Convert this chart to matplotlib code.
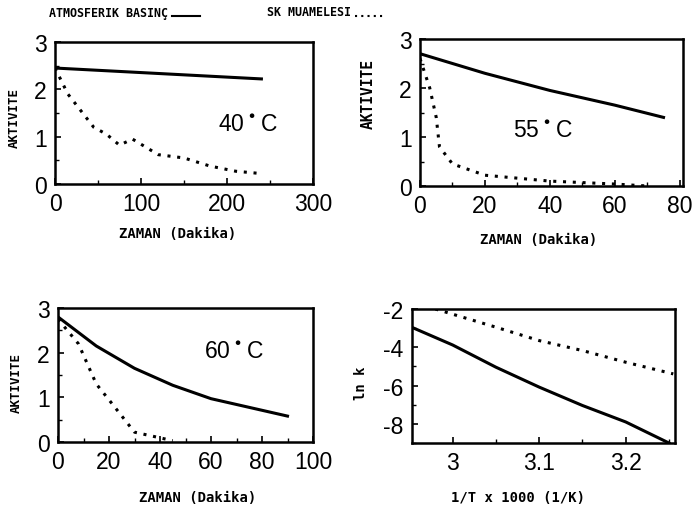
import matplotlib
matplotlib.use("Agg")
import matplotlib.pyplot as plt
from matplotlib.ticker import MultipleLocator

plt.rcParams['font.family'] = ['Liberation Sans', 'DejaVu Sans']
plt.rcParams['axes.unicode_minus'] = False

# 40 C
t40_solid = [0, 240]
a40_solid = [2.45, 2.22]
t40_dot = [0, 15, 45, 60, 75, 90, 120, 150, 180, 210, 240]
a40_dot = [2.45, 1.9, 1.2, 1.05, 0.82, 0.95, 0.62, 0.55, 0.38, 0.27, 0.22]

# 55 C
t55_solid = [0, 20, 40, 60, 75]
a55_solid = [2.7, 2.3, 1.95, 1.65, 1.4]
t55_dot = [0, 3, 5, 6, 10, 20, 40, 60, 70]
a55_dot = [2.6, 2.0, 1.4, 0.8, 0.45, 0.22, 0.1, 0.04, 0.0]

# 60 C
t60_solid = [0, 15, 30, 45, 60, 90]
a60_solid = [2.8, 2.15, 1.65, 1.27, 0.97, 0.58]
t60_dot = [0, 8, 15, 22, 30, 45]
a60_dot = [2.75, 2.2, 1.3, 0.8, 0.22, 0.03]

# Arrhenius
invT_solid = [2.953, 3.0, 3.05, 3.1, 3.15, 3.2, 3.25]
lnk_solid = [-2.96, -3.88, -5.04, -6.08, -7.04, -7.9, -9.0]
invT_dot = [2.98, 3.05, 3.1, 3.15, 3.2, 3.255]
lnk_dot = [-2.0, -2.95, -3.65, -4.17, -4.78, -5.39]

DOT = (0, (1, 2.2))
LW = 2.2
TICK_FS = 16.5


def mono(size):
    return dict(family='DejaVu Sans Mono', fontweight='bold', fontsize=size)


fig = plt.figure(figsize=(6.94, 5.10), dpi=100)
W, H = 694, 510


def make_ax(l, t, r, b):
    ax = fig.add_axes([l / W, 1 - b / H, (r - l) / W, (b - t) / H])
    for s in ax.spines.values():
        s.set_linewidth(1.8)
    ax.tick_params(direction='in', length=4, width=1.2, labelsize=TICK_FS,
                   pad=6, which='major')
    ax.tick_params(direction='in', length=3, width=1.0, which='minor')
    return ax


def ftext(x, y, s, **kw):
    fig.text(x / W, 1 - y / H, s, ha='center', va='center', **kw)


ax1 = make_ax(55, 43, 313, 185)
ax1.plot(t40_solid, a40_solid, color='black', lw=LW)
ax1.plot(t40_dot, a40_dot, color='black', lw=LW, ls=DOT)
ax1.set_xlim(0, 300)
ax1.set_ylim(0, 3)
ax1.xaxis.set_major_locator(MultipleLocator(100))
ax1.xaxis.set_minor_locator(MultipleLocator(50))
ax1.yaxis.set_major_locator(MultipleLocator(1))
ax1.yaxis.set_minor_locator(MultipleLocator(0.5))
ax1.text(225, 1.27, r"40$^\bullet$C", fontsize=TICK_FS, ha='center', va='center')

ax2 = make_ax(420, 40, 683, 187)
ax2.plot(t55_solid, a55_solid, color='black', lw=LW)
ax2.plot(t55_dot, a55_dot, color='black', lw=LW, ls=DOT)
ax2.set_xlim(0, 81)
ax2.set_ylim(0, 3)
ax2.xaxis.set_major_locator(MultipleLocator(20))
ax2.xaxis.set_minor_locator(MultipleLocator(10))
ax2.yaxis.set_major_locator(MultipleLocator(1))
ax2.yaxis.set_minor_locator(MultipleLocator(0.5))
ax2.text(38, 1.16, r"55$^\bullet$C", fontsize=TICK_FS, ha='center', va='center')

ax3 = make_ax(58, 309, 313, 443)
ax3.plot(t60_solid, a60_solid, color='black', lw=LW)
ax3.plot(t60_dot, a60_dot, color='black', lw=LW, ls=DOT)
ax3.set_xlim(0, 100)
ax3.set_ylim(0, 3)
ax3.xaxis.set_major_locator(MultipleLocator(20))
ax3.xaxis.set_minor_locator(MultipleLocator(10))
ax3.yaxis.set_major_locator(MultipleLocator(1))
ax3.yaxis.set_minor_locator(MultipleLocator(0.5))
ax3.text(69, 2.04, r"60$^\bullet$C", fontsize=TICK_FS, ha='center', va='center')

ax4 = make_ax(412, 310, 675, 444)
ax4.plot(invT_solid, lnk_solid, color='black', lw=LW)
ax4.plot(invT_dot, lnk_dot, color='black', lw=LW, ls=DOT)
ax4.set_xlim(2.953, 3.257)
ax4.set_ylim(-9, -2)
ax4.set_xticks([3.0, 3.1, 3.2])
ax4.set_xticklabels(['3', '3.1', '3.2'])
ax4.xaxis.set_minor_locator(MultipleLocator(0.05))
ax4.yaxis.set_major_locator(MultipleLocator(2))
ax4.yaxis.set_minor_locator(MultipleLocator(1))

# axis labels
ftext(178, 234, "ZAMAN (Dakika)", **mono(10))
ftext(539, 240, "ZAMAN (Dakika)", **mono(10))
ftext(198, 498, "ZAMAN (Dakika)", **mono(10))
ftext(518, 498, "1/T x 1000 (1/K)", **mono(10))
ftext(14, 118, "AKTIVITE", rotation=90, **mono(9))
ftext(368, 94, "AKTIVITE", rotation=90, **mono(10.5))
ftext(16, 383, "AKTIVITE", rotation=90, **mono(9))
ftext(361, 383, "ln k", rotation=90, **mono(10))

# header legend
fig.text(49 / W, 1 - 13 / H, "ATMOSFERIK BASINÇ", ha='left', va='center', **mono(8.4))
fig.add_artist(plt.Line2D([172 / W, 200 / W], [1 - 17 / H, 1 - 17 / H],
                          color='black', lw=1.5))
fig.text(267 / W, 1 - 13 / H, "SK MUAMELESI", ha='left', va='center', **mono(8.4))
fig.add_artist(plt.Line2D([355 / W, 383 / W], [1 - 17 / H, 1 - 17 / H],
                          color='black', lw=1.5, ls=(0, (1, 2))))

fig.savefig("out.png", dpi=100)
